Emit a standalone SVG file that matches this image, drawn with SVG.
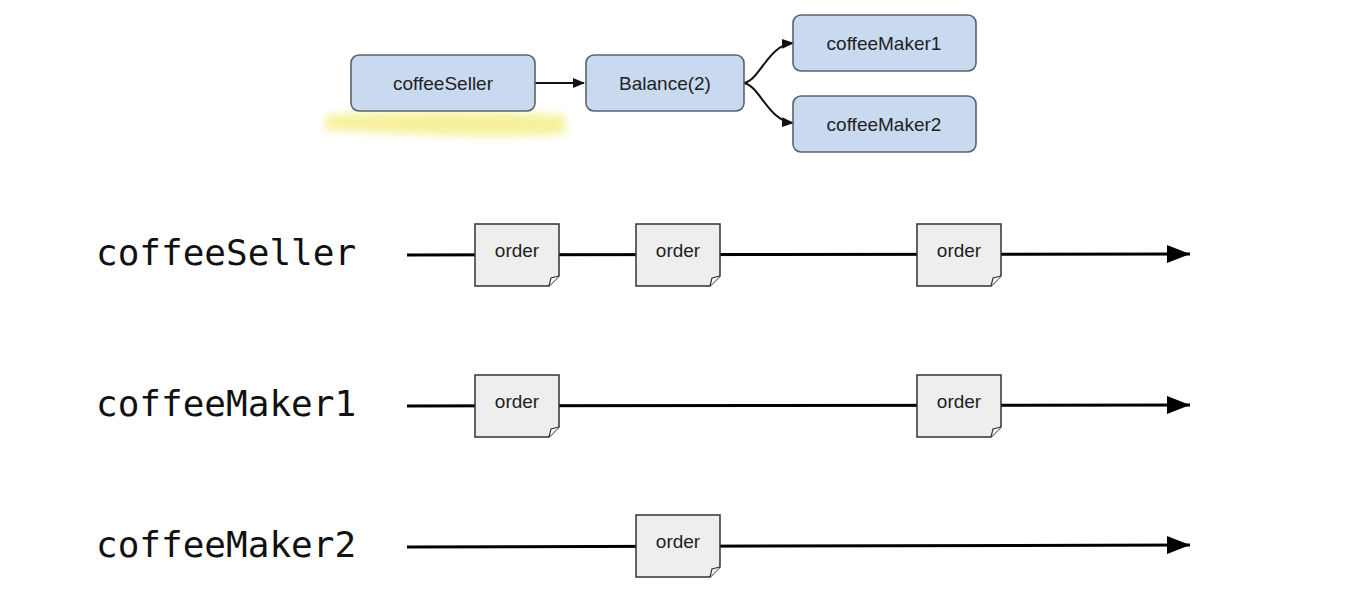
<svg xmlns="http://www.w3.org/2000/svg" width="1354" height="614" viewBox="0 0 1354 614">
<defs>
<filter id="blur" x="-20%" y="-100%" width="140%" height="300%"><feGaussianBlur stdDeviation="4"/></filter>
<marker id="ah" markerWidth="12" markerHeight="10" refX="11" refY="5" orient="auto" markerUnits="userSpaceOnUse" viewBox="0 0 12 10"><path d="M0,0 L12,5 L0,10 z" fill="#111"/></marker>
<marker id="tl" markerWidth="23" markerHeight="18" refX="23" refY="9" orient="auto" markerUnits="userSpaceOnUse" viewBox="0 0 23 18"><path d="M0,0 L23,9 L0,18 z" fill="#000"/></marker>
</defs>
<style>
.node rect{fill:#c9daf0;stroke:#58636f;stroke-width:1.6}
.node text{font-family:"Liberation Sans",Arial,sans-serif;font-size:19px;fill:#222;text-anchor:middle}
.conn{fill:none;stroke:#111;stroke-width:2}
.tline{fill:none;stroke:#000;stroke-width:3}
.lbl{font-family:"DejaVu Sans Mono",monospace;font-size:36px;fill:#111}
.order path.b{fill:#eeeeee;stroke:#333;stroke-width:1.5}
.order path.f{fill:#fff;stroke:#333;stroke-width:1.2}
.order text{font-family:"Liberation Sans",Arial,sans-serif;font-size:19px;fill:#222;text-anchor:middle}
</style>
<rect width="1354" height="614" fill="#fff"/>
<path d="M325,116 C380,110 500,110 565,116 L565,134 C480,140 380,132 325,130 z" fill="#f4ef8c" opacity="0.85" filter="url(#blur)"/>
<g id="connectors">
<path class="conn" d="M535,83 L584,83" marker-end="url(#ah)"/>
<path class="conn" d="M744,83 C760,80 768,45 793,43" marker-end="url(#ah)"/>
<path class="conn" d="M744,83 C760,86 768,121 793,123" marker-end="url(#ah)"/>
<path class="tline" d="M407,255 L1190,254" marker-end="url(#tl)"/>
<path class="tline" d="M407,406 L1190,405" marker-end="url(#tl)"/>
<path class="tline" d="M407,547 L1190,545" marker-end="url(#tl)"/>
</g>
<g id="n-coffeeSeller" class="node"><rect x="351" y="55" width="184" height="56" rx="8"/><text x="443" y="90">coffeeSeller</text></g>
<g id="n-balance" class="node"><rect x="586" y="55" width="158" height="56" rx="8"/><text x="665" y="90">Balance(2)</text></g>
<g id="n-coffeeMaker1" class="node"><rect x="793" y="15" width="183" height="56" rx="8"/><text x="884" y="50">coffeeMaker1</text></g>
<g id="n-coffeeMaker2" class="node"><rect x="793" y="96" width="183" height="56" rx="8"/><text x="884" y="131">coffeeMaker2</text></g>
<g id="label-seller"><text class="lbl" x="96" y="265">coffeeSeller</text></g>
<g id="label-maker1"><text class="lbl" x="96" y="416">coffeeMaker1</text></g>
<g id="label-maker2"><text class="lbl" x="96" y="557">coffeeMaker2</text></g>
<g id="o1" class="order"><path class="b" d="M475,224 H559 V276 L549,286 H475 Z"/><path class="f" d="M549,286 L551,278 L559,276"/><text x="517" y="257">order</text></g>
<g id="o2" class="order"><path class="b" d="M636,224 H720 V276 L710,286 H636 Z"/><path class="f" d="M710,286 L712,278 L720,276"/><text x="678" y="257">order</text></g>
<g id="o3" class="order"><path class="b" d="M917,224 H1001 V276 L991,286 H917 Z"/><path class="f" d="M991,286 L993,278 L1001,276"/><text x="959" y="257">order</text></g>
<g id="o4" class="order"><path class="b" d="M475,375 H559 V427 L549,437 H475 Z"/><path class="f" d="M549,437 L551,429 L559,427"/><text x="517" y="408">order</text></g>
<g id="o5" class="order"><path class="b" d="M917,375 H1001 V427 L991,437 H917 Z"/><path class="f" d="M991,437 L993,429 L1001,427"/><text x="959" y="408">order</text></g>
<g id="o6" class="order"><path class="b" d="M636,515 H720 V567 L710,577 H636 Z"/><path class="f" d="M710,577 L712,569 L720,567"/><text x="678" y="548">order</text></g>
</svg>
